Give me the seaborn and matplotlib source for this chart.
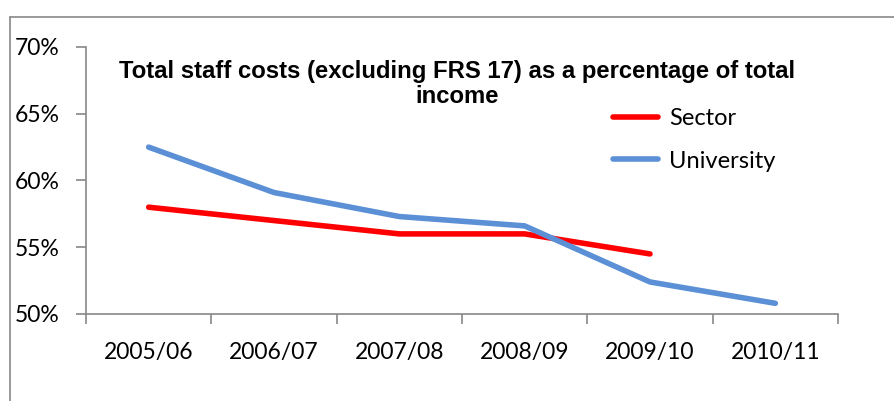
import pandas as pd
import matplotlib.pyplot as plt
import seaborn as sns
from matplotlib.lines import Line2D

sns.set_style("white")
plt.rcParams["font.family"] = ["Lato", "DejaVu Sans"]
plt.rcParams["text.color"] = "black"
plt.rcParams["xtick.color"] = "black"
plt.rcParams["ytick.color"] = "black"

# DATA
years = ["2005/06", "2006/07", "2007/08", "2008/09", "2009/10", "2010/11"]
sector = [58.0, 57.0, 56.0, 56.0, 54.5, None]
university = [62.5, 59.1, 57.3, 56.6, 52.4, 50.8]

df = pd.DataFrame({
    "Year": years * 2,
    "Value": sector + university,
    "Series": ["Sector"] * 6 + ["University"] * 6,
})
df["x"] = list(range(6)) * 2
df = df.dropna()

fig = plt.figure(figsize=(8.95, 4.01), dpi=100)
ax = fig.add_axes([86 / 895, 1 - 314 / 401, (838 - 86) / 895, (314 - 47) / 401])

sns.lineplot(
    data=df, x="x", y="Value", hue="Series",
    palette={"Sector": "#ff0000", "University": "#5b8fd6"},
    linewidth=4, ax=ax, legend=False, sort=False,
)
for line in ax.lines:
    line.set_solid_capstyle("round")
    line.set_solid_joinstyle("round")

ax.set_xlim(-0.5, 5.5)
ax.set_ylim(50, 70)
ax.set_yticks([50, 55, 60, 65, 70])
ax.set_yticklabels([f"{v}%" for v in [50, 55, 60, 65, 70]], fontsize=16.5)
ax.set_xticks([i + 0.5 for i in range(-1, 6)], minor=False)
ax.set_xticklabels([])
ax.set_xticks(range(6), minor=True)
ax.set_xticklabels(years, minor=True, fontsize=16.5)
ax.tick_params(axis="x", which="minor", bottom=True, length=0, pad=20)
ax.tick_params(axis="x", which="major", bottom=True, length=7, color="#888888",
               direction="out", width=1.2)
ax.tick_params(axis="y", left=True, length=7, color="#888888", direction="out",
               width=1.2, pad=12)
ax.set_xlabel("")
ax.set_ylabel("")

for s in ["top", "right"]:
    ax.spines[s].set_visible(False)
for s in ["left", "bottom"]:
    ax.spines[s].set_color("#888888")
    ax.spines[s].set_linewidth(1.2)

fig.text(457 / 895, 1 - 84 / 401,
         "Total staff costs (excluding FRS 17) as a percentage of total\nincome",
         ha="center", va="center", fontsize=17.2, fontweight="bold", color="black",
         family=["Liberation Sans", "DejaVu Sans"], linespacing=1.15)

handles = [
    Line2D([0], [0], color="#ff0000", lw=4, solid_capstyle="round"),
    Line2D([0], [0], color="#5b8fd6", lw=4, solid_capstyle="round"),
]
fig.legend(handles, ["Sector", "University"], loc="upper left",
           bbox_to_anchor=(592 / 895, 1 - 87 / 401), frameon=False,
           fontsize=17, handlelength=1.9, handletextpad=0.45, labelspacing=0.9)

# outer chart border (left and top)
fig.add_artist(Line2D([10 / 895, 10 / 895], [0, 1 - 17 / 401], color="#888888", lw=1.2))
fig.add_artist(Line2D([10 / 895, 1], [1 - 17 / 401, 1 - 17 / 401], color="#888888", lw=1.2))

plt.savefig("out.png", dpi=100)
